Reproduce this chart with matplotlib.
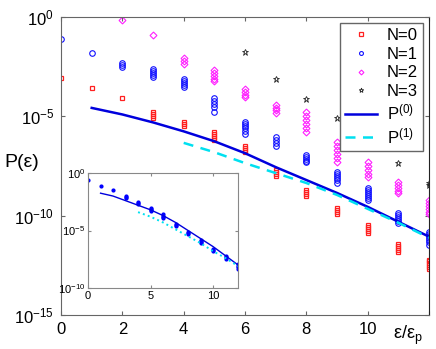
import matplotlib
matplotlib.use('Agg')
import matplotlib.pyplot as plt
import numpy as np

plt.rcParams['font.family'] = ['Liberation Sans', 'DejaVu Sans']
plt.rcParams['mathtext.default'] = 'regular'

# log10 P for every point, grouped by eps/eps_p = 0..12
n_vals = list(range(13))
logp_n0 = [[-3.07], [-3.57], [-4.07], [-4.8, -4.9, -5.0, -5.1], [-5.3, -5.4, -5.5],
           [-5.8, -5.9, -6.0, -6.1, -6.2], [-6.5, -6.6, -6.7, -6.8],
           [-7.7, -7.8, -7.9, -8.0], [-8.7, -8.8, -8.9, -9.0], [-9.6, -9.7, -9.8, -9.9],
           [-10.45, -10.55, -10.65, -10.75, -10.85], [-11.4, -11.5, -11.6, -11.7, -11.8],
           [-12.2, -12.3, -12.4, -12.5, -12.6, -12.7]]
logp_n1 = [[-1.1], [-1.8], [-2.3, -2.4, -2.5], [-2.6, -2.7, -2.8, -2.9, -3.0],
           [-3.1, -3.2, -3.3, -3.4, -3.5], [-4.05, -4.2, -4.35, -4.5, -4.8],
           [-5.3, -5.4, -5.5, -5.6, -5.75, -5.9], [-6.05, -6.2, -6.35, -6.5],
           [-6.95, -7.05, -7.15, -7.25, -7.3], [-7.8, -7.9, -8.0, -8.1, -8.2, -8.35],
           [-8.6, -8.7, -8.8, -8.9, -9.0, -9.1, -9.2],
           [-9.85, -9.95, -10.05, -10.15, -10.25, -10.35],
           [-10.8, -10.9, -11.0, -11.1, -11.2, -11.3, -11.45]]
logp_n2 = [[], [], [-0.15], [-0.9], [-2.05, -2.2, -2.35], [-2.65, -2.8, -2.95, -3.1, -3.2],
           [-3.6, -3.75, -3.9, -4.0], [-4.4, -4.55, -4.7, -4.85],
           [-4.8, -5.0, -5.2, -5.4, -5.6, -5.8], [-6.3, -6.5, -6.7, -6.9, -7.1, -7.3],
           [-7.3, -7.5, -7.7, -7.9, -8.05], [-8.3, -8.45, -8.6, -8.75, -8.85],
           [-9.2, -9.35, -9.5, -9.65, -9.8, -9.9]]
logp_n3 = [[], [], [], [], [], [], [-1.76], [-3.1], [-4.1], [-5.1], [-6.1],
           [-7.35], [-8.35, -8.45]]

p0_x = [1, 2, 3, 4, 5, 6, 7, 8, 9, 10, 11, 12]
p0_log = [-4.57, -4.9, -5.3, -5.75, -6.25, -6.85, -7.55, -8.2, -8.85, -9.55, -10.3, -11.05]
p1_x = [4, 5, 6, 7, 8, 9, 10, 11, 12]
p1_log = [-6.33, -6.8, -7.35, -7.85, -8.35, -8.95, -9.65, -10.35, -11.1]

# inset
logp_ins = [[-0.6], [-1.1], [-1.5], [-2.0, -2.1, -2.2], [-2.5, -2.6, -2.7],
            [-3.0, -3.1, -3.2, -3.3], [-3.6, -3.7, -3.8, -3.9], [-4.4, -4.5, -4.6],
            [-5.1, -5.2, -5.3], [-5.8, -5.9, -6.0, -6.1], [-6.6, -6.7, -6.8],
            [-7.2, -7.35, -7.5], [-7.9, -8.05, -8.2, -8.35]]
ins_p0_log = [-1.75, -2.0, -2.4, -2.8, -3.2, -3.7, -4.3, -5.0, -5.7, -6.4, -7.2, -8.0]
ins_p1_log = [-3.4, -3.8, -4.3, -4.9, -5.5, -6.1, -6.8, -7.4, -8.1]


def flat(groups):
    xs, ys = [], []
    for n, g in zip(n_vals, groups):
        for v in g:
            xs.append(n)
            ys.append(10.0 ** v)
    return xs, ys


fig = plt.figure(figsize=(4.36, 3.49), dpi=100)
ax = fig.add_axes([0.140, 0.097, 0.844, 0.854])

x, y = flat(logp_n0)
ax.plot(x, y, marker='s', ls='none', color='#ff2020', mfc='none', ms=3.5, mew=0.9, label='N=0')
x, y = flat(logp_n1)
ax.plot(x, y, marker='o', ls='none', color='#1010ff', mfc='none', ms=4, mew=0.8, label='N=1')
x, y = flat(logp_n2)
ax.plot(x, y, marker='D', ls='none', color='#ff20ff', mfc='none', ms=3.5, mew=0.8, label='N=2')
x, y = flat(logp_n3)
ax.plot(x, y, marker='*', ls='none', color='#222222', mfc='none', ms=5, mew=0.6, label='N=3')
ax.plot(p0_x, 10.0 ** np.array(p0_log), '-', color='#0000dd', lw=1.8, label='P$^{(0)}$')
ax.plot(p1_x, 10.0 ** np.array(p1_log), '--', color='#00e0f0', lw=1.8,
        dashes=(4, 3), label='P$^{(1)}$')

ax.set_yscale('log')
ax.set_xlim(0, 12)
ax.set_ylim(1e-15, 1e0)
ax.set_xticks([0, 2, 4, 6, 8, 10, 12])
ax.set_xticklabels(['0', '2', '4', '6', '8', '10', ''])
ax.set_yticks([1e-15, 1e-10, 1e-5, 1e0])
ax.yaxis.set_minor_locator(matplotlib.ticker.NullLocator())
ax.tick_params(direction='in', top=True, right=True, labelsize=12, length=3,
               color='#666666', pad=5)
for s in ax.spines.values():
    s.set_color('#666666')
ax.spines['right'].set_color('#222222')

leg = ax.legend(loc='upper right', bbox_to_anchor=(0.984, 0.98), borderaxespad=0,
                fontsize=12, fancybox=False, framealpha=1, edgecolor='#666666',
                handlelength=1.9, borderpad=0.3, labelspacing=0.22,
                handletextpad=0.6, markerscale=0.7)
leg.get_frame().set_linewidth(1.0)

fig.text(0.01, 0.533, 'P(ε)', fontsize=14, va='center', ha='left')
fig.text(0.935, 0.04, 'ε/ε$_p$', fontsize=13, va='center', ha='center')

ins = fig.add_axes([0.202, 0.175, 0.344, 0.329])
x, y = flat(logp_ins)
ins.plot(x, y, marker='.', ls='none', color='blue', ms=4)
ins.plot(p0_x, 10.0 ** np.array(ins_p0_log), '-', color='#0000dd', lw=1.0)
ins.plot(p1_x, 10.0 ** np.array(ins_p1_log), ':', color='#00e0f0', lw=1.4)
ins.set_yscale('log')
ins.set_xlim(0, 12)
ins.set_ylim(1e-10, 1e0)
ins.set_xticks([0, 5, 10])
ins.set_yticks([1e-10, 1e-5, 1e0])
ins.yaxis.set_minor_locator(matplotlib.ticker.NullLocator())
ins.tick_params(direction='in', top=True, right=True, labelsize=8, length=2,
                color='#888888', pad=2)
for s in ins.spines.values():
    s.set_color('#888888')

fig.savefig('out.png', dpi=100)
